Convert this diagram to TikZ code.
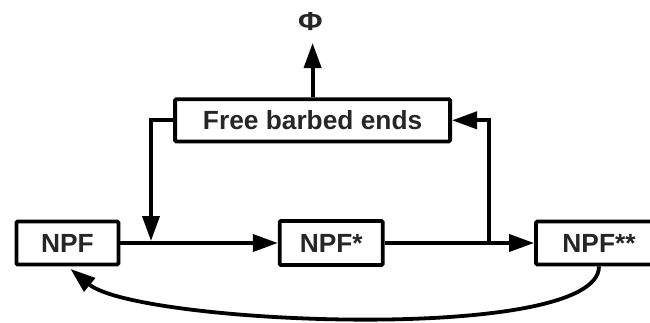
\documentclass[tikz,border=0pt]{standalone}
\usepackage{fontspec}
\setmainfont{Liberation Sans}
\usetikzlibrary{arrows.meta}
\begin{document}
\begin{tikzpicture}[x=1pt,y=-1pt,
  box/.style={draw=black,line width=3.8pt,rounded corners=1.2pt,inner sep=0pt,
    font=\fontsize{26.3}{29}\selectfont\bfseries,text=black!85},
  conn/.style={line width=3.8pt,draw=black,
    -{Triangle[length=25pt,width=17pt]}}]
\path[use as bounding box,clip] (0,0) rectangle (650,322);
\node[box,minimum width=102pt,minimum height=43pt] (npf) at (67.4,243) {NPF};
\node[box,minimum width=103pt,minimum height=44pt] (npfs) at (331.2,243) {NPF*};
\node[box,minimum width=126pt,minimum height=43pt] (npfss) at (599,243) {NPF**};
\node[box,minimum width=275pt,minimum height=42.2pt] (fbe) at (312.6,120.3) {Free barbed ends};
\node[font=\fontsize{26}{28}\selectfont\bfseries,text=black!85,inner sep=0pt,xscale=1.15] (phi) at (310.5,22) {Φ};
\coordinate (phitip) at (312,43);
\coordinate (jl) at (151,241);
\coordinate (jr) at (489,243);
\draw[conn] (npf.east) -- (npfs.west);
\draw[conn] (npfs.east) -- (npfss.west);
\draw[conn] (jr) |- (fbe.east);
\draw[conn] (fbe.west) -| (jl);
\draw[conn] (fbe.north) -- (fbe.north |- phitip);
\draw[conn,shorten >=4pt] (npfss.south) .. controls +(0,78) and +(70,58) .. (npf.south);
\end{tikzpicture}
\end{document}
